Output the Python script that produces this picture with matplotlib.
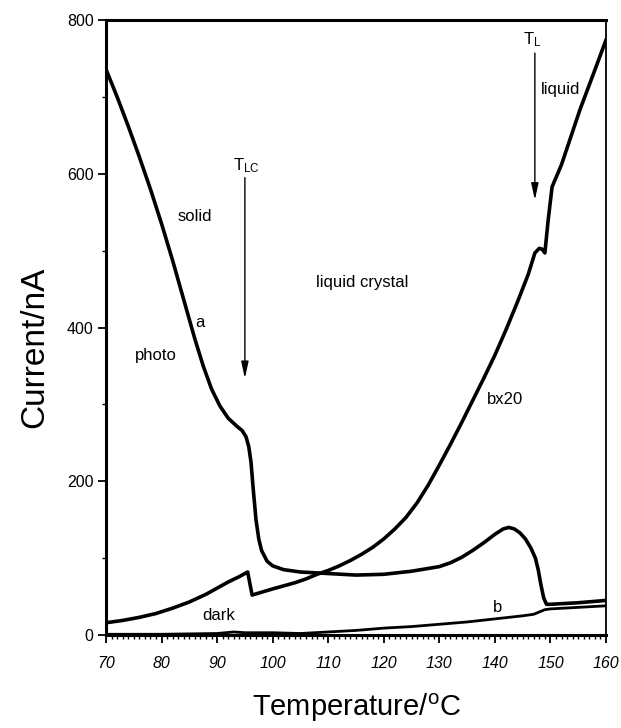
import matplotlib
matplotlib.use("Agg")
import matplotlib.pyplot as plt
from matplotlib.ticker import MultipleLocator

plt.rcParams["font.family"] = ["Liberation Sans", "DejaVu Sans"]
plt.rcParams["mathtext.fontset"] = "custom"
plt.rcParams["mathtext.rm"] = "Liberation Sans"
plt.rcParams["mathtext.it"] = "Liberation Sans:italic"

# photocurrent (curve a)
temp_a = [70, 72, 74, 76, 78, 80, 82, 84, 86, 87.5, 89, 90.5, 92, 93.5, 94.5,
          95.2, 95.7, 96.1, 96.5, 97, 97.5, 98, 99, 100, 102, 105, 110, 115,
          120, 125, 130, 132, 134, 136, 138, 140, 141.5, 142.5, 143.5, 144.5,
          145.5, 146.5, 147.3, 147.8, 148.3, 148.8, 149.3, 150, 155, 160]
curr_a = [736, 700, 662, 622, 580, 535, 487, 436, 385, 350, 320, 298, 282,
          272, 266, 258, 245, 225, 190, 150, 125, 110, 96, 90, 85, 82, 80, 78,
          79, 83, 89, 94, 101, 110, 120, 131, 138, 140, 138, 133, 125, 113,
          100, 85, 65, 48, 40, 40, 42, 45]

# dark current x20 (curve b x20)
temp_b20 = [70, 73, 76, 79, 82, 85, 88, 90, 92, 94, 95.5, 96.3, 100, 102,
            104, 106, 108, 110, 112, 114, 116, 118, 120, 122, 124, 126, 128,
            130, 132, 134, 136, 138, 140, 142, 144, 146, 147.2, 148, 148.5,
            149, 149.6, 150.3, 152, 155.3, 158, 160]
curr_b20 = [16, 19, 23, 28, 35, 43, 53, 61, 69, 76, 82, 52, 60, 64, 68, 73,
            79, 84, 90, 97, 105, 114, 125, 138, 153, 172, 195, 221, 248, 276,
            305, 334, 364, 397, 432, 469, 497, 503, 502, 497, 540, 583, 612,
            683, 735, 774]

# dark current (curve b)
temp_b = [70, 80, 90, 93, 95, 100, 105, 110, 115, 120, 125, 130, 135, 140,
          145, 147, 148, 149, 150, 155, 160]
curr_b = [1, 1, 2, 4, 3, 3, 2, 4, 6, 9, 11, 14, 17, 21, 25, 27, 30, 33, 34,
          36, 38]

x_ticks = [70, 80, 90, 100, 110, 120, 130, 140, 150, 160]
y_ticks = [0, 200, 400, 600, 800]

fig = plt.figure(figsize=(6.21, 7.28), dpi=100)
ax = fig.add_axes([0.1707, 0.1277, 0.8051, 0.8448])

ax.plot(temp_a, curr_a, color="black", lw=2.6, solid_joinstyle="round")
ax.plot(temp_b20, curr_b20, color="black", lw=2.6, solid_joinstyle="round")
ax.plot(temp_b, curr_b, color="black", lw=2.0)

ax.set_xlim(70, 160)
ax.set_ylim(0, 800)
ax.set_xticks(x_ticks)
ax.set_yticks(y_ticks)
ax.xaxis.set_minor_locator(MultipleLocator(1))
ax.yaxis.set_minor_locator(MultipleLocator(100))
ax.tick_params(axis="both", which="major", direction="out", length=6,
               width=1.3, labelsize=11.5)
ax.tick_params(axis="both", which="minor", direction="out", length=3,
               width=1.0)
ax.tick_params(axis="x", pad=9)
ax.tick_params(axis="y", pad=3)
for lab in ax.get_xticklabels():
    lab.set_fontstyle("italic")

for side in ["left", "bottom", "top"]:
    ax.spines[side].set_linewidth(2.2)
ax.spines["right"].set_linewidth(1.3)

ax.set_xlabel("Temperature/$^{\\mathrm{o}}$C", fontsize=21)
ax.set_ylabel("Current/nA", fontsize=24)
ax.xaxis.set_label_coords(0.502, -0.092)
ax.yaxis.set_label_coords(-0.112, 0.468)

fs = 12
ax.text(86.0, 544, "solid", fontsize=fs, ha="center", va="center")
ax.text(86.9, 407, "a", fontsize=fs, ha="center", va="center")
ax.text(79.0, 363, "photo", fontsize=fs, ha="center", va="center")
ax.text(116.1, 459, "liquid crystal", fontsize=fs, ha="center", va="center")
ax.text(151.9, 710, "liquid", fontsize=fs, ha="center", va="center")
ax.text(141.8, 307, "bx20", fontsize=fs, ha="center", va="center")
ax.text(90.3, 26, "dark", fontsize=fs, ha="center", va="center")
ax.text(140.4, 36, "b", fontsize=fs, ha="center", va="center")
ax.text(95.2, 611, "T$_{\\mathrm{LC}}$", fontsize=fs, ha="center", va="center")
ax.text(146.7, 774, "T$_{\\mathrm{L}}$", fontsize=fs, ha="center", va="center")

arrow = dict(arrowstyle="-|>,head_length=1.0,head_width=0.22",
             color="black", lw=1.0, shrinkA=0, shrinkB=0)
ax.annotate("", xy=(95.0, 334), xytext=(95.0, 595), arrowprops=arrow)
ax.annotate("", xy=(147.2, 566), xytext=(147.2, 757), arrowprops=arrow)

fig.savefig("out.png", dpi=100)
